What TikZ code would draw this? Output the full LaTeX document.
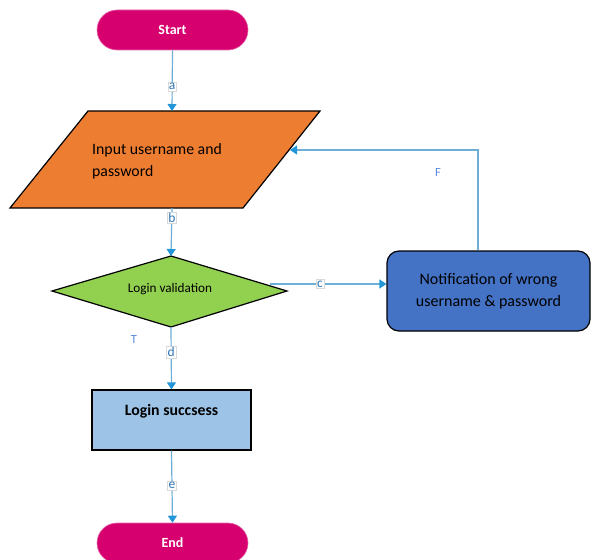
\documentclass[tikz,border=0pt]{standalone}
\usepackage{fontspec}
\setmainfont{Carlito}
\usetikzlibrary{shapes.geometric,arrows.meta,calc}
\definecolor{term}{RGB}{214,0,111}
\definecolor{inpcol}{RGB}{237,125,49}
\definecolor{diacol}{RGB}{146,208,80}
\definecolor{notcol}{RGB}{68,114,196}
\definecolor{succol}{RGB}{157,195,230}
\definecolor{linecol}{RGB}{110,175,215}
\definecolor{tipcol}{RGB}{35,150,215}
\definecolor{lblcol}{RGB}{46,117,182}
\tikzset{
  terminal/.style={draw=term!60, line width=0.6pt, fill=term, rounded corners=20pt, minimum width=151pt, minimum height=40pt, text=white, font=\fontsize{14}{15}\selectfont\bfseries, inner sep=0pt},
  conn/.style={draw=linecol, line width=1.2pt, -{Triangle[length=7pt,width=9pt,fill=tipcol,color=tipcol]}},
  lbl/.style={fill=white, draw=black!15, line width=0.3pt, inner sep=1.2pt, text=lblcol, font=\fontsize{13.5}{13.5}\selectfont},
  tf/.style={text=linecol!80!blue, font=\fontsize{12.5}{12.5}\selectfont}
}
\begin{document}
\begin{tikzpicture}[x=1pt,y=-1pt]
\useasboundingbox[fill=white] (0,0) rectangle (591,559);
% Start
\node[terminal] (start) at (172.5,30) {Start};
% Input parallelogram
\draw[fill=inpcol, line width=1.2pt, line join=miter] (88,111) -- (320,111) -- (243,208) -- (10,208) -- cycle;
\coordinate (inpT) at (172,111);
\coordinate (inpB) at (172,208);
\coordinate (inpR) at (290,150);
\node[anchor=west, align=left, font=\fontsize{15.8}{22}\selectfont, inner sep=0pt] (inp) at (92,161) {Input username and\\password};
% Diamond
\draw[fill=diacol, line width=1.2pt, line join=miter] (52,291) -- (171,256) -- (287,291) -- (171,327) -- cycle;
\coordinate (diaN) at (171,256);
\coordinate (diaS) at (171,327);
\node[font=\fontsize{13.2}{14}\selectfont, inner sep=0pt] (dia) at (170,289) {Login validation};
% Notification
\node[draw, line width=1.2pt, fill=notcol, rounded corners=12pt, minimum width=203pt, minimum height=80pt, align=center, font=\fontsize{16}{22}\selectfont, inner sep=0pt] (nb) at (488.5,291) {Notification of wrong\\username \& password};
% Login success
\node[draw, line width=1.2pt, fill=succol, minimum width=159pt, minimum height=60pt, inner sep=0pt] (suc) at (171.5,420) {};
\node[font=\fontsize{15.8}{18}\selectfont\bfseries, inner sep=0pt] (suct) at (171.5,411) {Login succsess};
% End
\node[terminal] (end) at (172.5,543) {End};
% Connectors
\draw[conn] (start.south) -- node[lbl, pos=0.6] {a} (inpT);
\draw[conn] (inpB) -- node[lbl, pos=0.2] {b} (diaN);
\coordinate (cst) at (270,284);
\draw[conn] (cst) -- node[lbl, pos=0.43] {c} (cst -| nb.west);
\coordinate (fup) at (478,150);
\draw[conn] (nb.north -| fup) -- (fup) -- (inpR);
\node[tf] (Flbl) at (438,172) {F};
\draw[conn] (diaS) -- node[lbl, pos=0.4] {d} (suc.north);
\node[tf] (Tlbl) at (134,339) {T};
\draw[conn] (suc.south) -- node[lbl, pos=0.48] {e} (end.north);
\end{tikzpicture}
\end{document}
